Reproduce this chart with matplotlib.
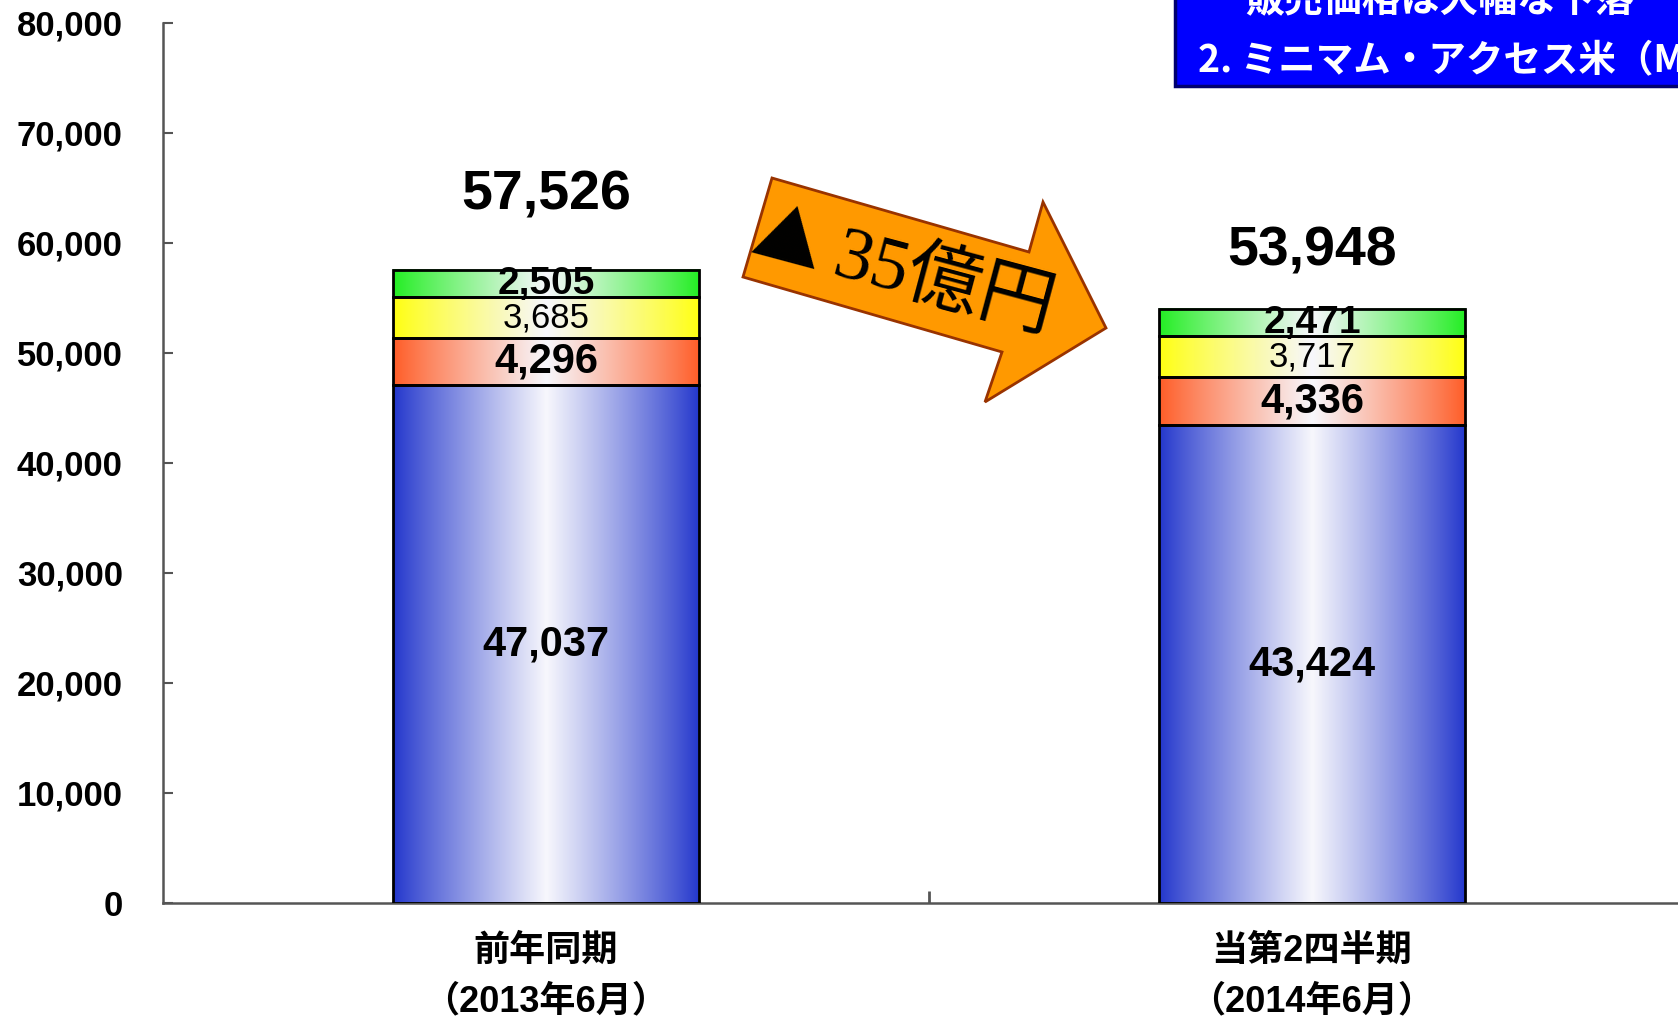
import numpy as np
import matplotlib
matplotlib.use("Agg")
import matplotlib.pyplot as plt
from matplotlib.colors import to_rgb
from matplotlib.patches import Polygon, Rectangle
from matplotlib.ticker import StrMethodFormatter

plt.rcParams["font.family"] = ["Liberation Sans", "Noto Sans CJK JP"]

# ─── Data ──────────────────────────────────────────────────────────────────────
periods      = ["前年同期\n（2013年6月）", "当第2四半期\n（2014年6月）"]
layer_blue   = [47037, 43424]
layer_red    = [4296, 4336]
layer_yellow = [3685, 3717]
layer_green  = [2505, 2471]
totals       = [57526, 53948]
change_mark  = "▲"
change_label = "35億円"
box_lines    = ["販売価格は大幅な下落", "2. ミニマム・アクセス米（MA）取扱"]

# ─── Style ─────────────────────────────────────────────────────────────────────
W, H = 1678, 1019
layers = [layer_blue, layer_red, layer_yellow, layer_green]
layer_colors = ["#2236cc", "#ff5c26", "#ffff10", "#22ee22"]
layer_fs     = [30, 30, 25, 28]
layer_fw     = ["bold", "bold", "normal", "bold"]
total_offsets = [74, 58]   # pixels above bar top
bar_w = 0.4


def gradient_row(color, n=256):
    u = np.linspace(0, 1, n)
    t = (1 - np.abs(2 * u - 1)) ** 0.9
    c = np.array(to_rgb(color))
    row = c[None, :] * (1 - t[:, None]) + np.array([0.97, 0.97, 0.99])[None, :] * t[:, None]
    return row[None, :, :]


def px(x, y):
    """figure pixel (from top-left) -> figure fraction"""
    return (x / W, 1 - y / H)


fig = plt.figure(figsize=(W / 100, H / 100), dpi=100)
fig.patch.set_facecolor("white")
ax = fig.add_axes([163 / W, (H - 903) / H, (1695 - 163) / W, (903 - 22.5) / H])

xpos = np.arange(len(periods))
for i, x in enumerate(xpos):
    bottom = 0
    for k, layer in enumerate(layers):
        v = layer[i]
        ax.imshow(gradient_row(layer_colors[k]),
                  extent=[x - bar_w / 2, x + bar_w / 2, bottom, bottom + v],
                  aspect="auto", interpolation="bilinear", zorder=2)
        ax.bar(x, v, bar_w, bottom=bottom, fill=False,
               edgecolor="black", linewidth=2, zorder=3)
        ax.text(x, bottom + v / 2, f"{v:,}", ha="center", va="center",
                fontsize=layer_fs[k], fontweight=layer_fw[k], zorder=4)
        bottom += v
    ax.annotate(f"{totals[i]:,}", (x, totals[i]), xytext=(0, total_offsets[i]),
                textcoords="offset pixels", ha="center", va="center",
                fontsize=40, fontweight="bold")

ax.set_xlim(-0.5, 1.5)
ax.set_ylim(0, 80000)
ax.set_yticks(np.arange(0, 80001, 10000))
ax.yaxis.set_major_formatter(StrMethodFormatter("{x:,.0f}"))

for s in ["top", "right"]:
    ax.spines[s].set_visible(False)
for s in ["left", "bottom"]:
    ax.spines[s].set_color("#555555")
    ax.spines[s].set_linewidth(1.8)

ax.tick_params(axis="y", direction="in", length=7, width=1.5, color="#555555",
               pad=29, labelsize=25)
for lab in ax.get_yticklabels():
    lab.set_fontweight("bold")

ax.set_xticks(xpos)
ax.set_xticklabels(periods, fontsize=26, fontweight="bold", linespacing=1.6)
ax.tick_params(axis="x", length=0, pad=22)
ax.set_xticks([0.5], minor=True)
ax.tick_params(axis="x", which="minor", direction="in", length=9,
               width=2, color="#555555")

# change arrow
arrow_px = [(772, 178), (1029, 252), (1043, 202), (1106, 328),
            (985, 402), (1002, 352), (743, 277)]
fig.patches.append(Polygon([px(*p) for p in arrow_px], closed=True,
                           facecolor="#ff9900", edgecolor="#993300",
                           linewidth=2, transform=fig.transFigure, zorder=5))
fig.text(*px(787, 243), change_mark, rotation=-15, rotation_mode="anchor",
         ha="center", va="center", fontsize=50,
         family=["Noto Sans CJK JP"], zorder=6)
fig.text(*px(943, 286), change_label, rotation=-15, rotation_mode="anchor",
         ha="center", va="center", fontsize=54,
         family=["Liberation Serif", "Noto Sans CJK JP"], zorder=6)

# blue header box (cut off at the figure edge)
fig.patches.append(Rectangle(px(1175, 86), (1700 - 1175) / W, 120 / H,
                             facecolor="#0000ff", edgecolor="#000070",
                             linewidth=2.5, transform=fig.transFigure, zorder=5))
fig.text(*px(1245, 1), box_lines[0], ha="left", va="center", color="white",
         fontsize=28, fontweight="bold", family=["Noto Sans CJK JP"], zorder=6)
fig.text(*px(1198, 61), box_lines[1], ha="left", va="center", color="white",
         fontsize=27, fontweight="bold", family=["Noto Sans CJK JP"], zorder=6)

fig.savefig("out.png", dpi=100)
